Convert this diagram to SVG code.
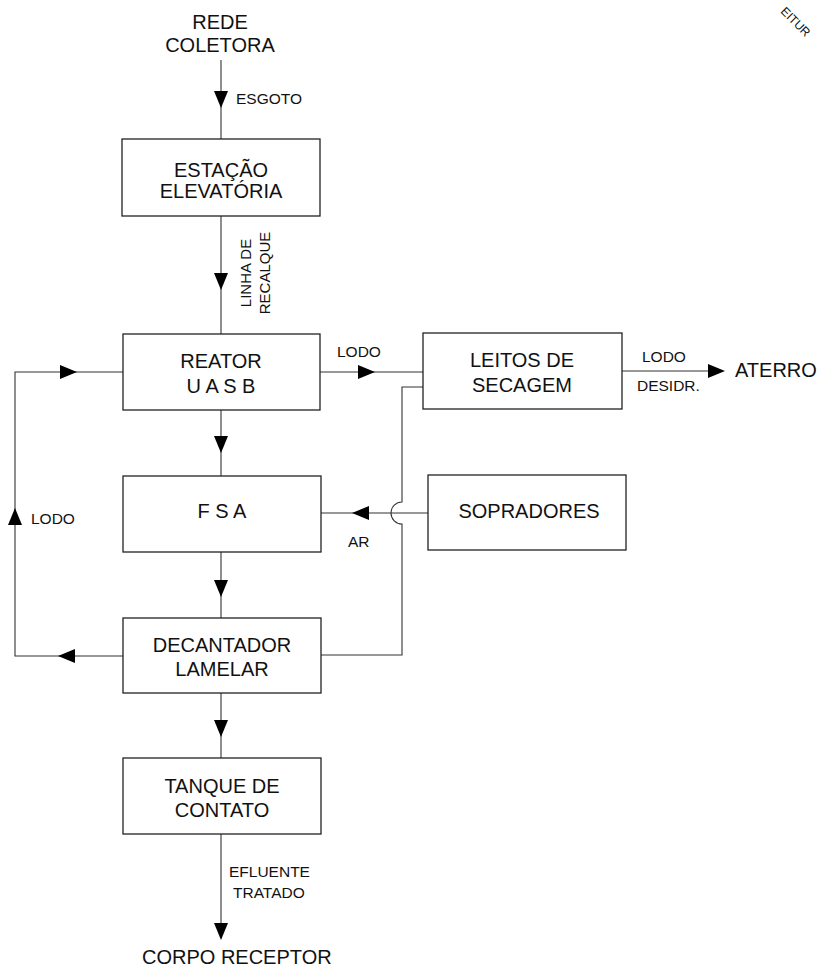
<svg xmlns="http://www.w3.org/2000/svg" width="820" height="967" viewBox="0 0 820 967">
<style>
  .box { fill: #ffffff; stroke: #222; stroke-width: 1.3; }
  .ln { fill: none; stroke: #333; stroke-width: 1.1; }
  .ah { fill: #000; stroke: none; }
  .big { font-family: "Liberation Sans", Arial, sans-serif; font-size: 20px; fill: #111; }
  .sm { font-family: "Liberation Sans", Arial, sans-serif; font-size: 15.5px; fill: #111; }
  .rot { font-family: "Liberation Sans", Arial, sans-serif; font-size: 15px; fill: #111; text-anchor: middle; }
  .mid { text-anchor: middle; }
</style>
<defs>
  <path id="aD" d="M-7,-17 L7,-17 L0,0 Z"/>
  <path id="aU" d="M-7,17 L7,17 L0,0 Z"/>
  <path id="aR" d="M-17,-7 L-17,7 L0,0 Z"/>
  <path id="aL" d="M17,-7 L17,7 L0,0 Z"/>
</defs>
<rect width="820" height="967" fill="#ffffff"/>

<g id="connectors">
  <line class="ln" x1="221" y1="60" x2="221" y2="139"/>
  <use href="#aD" class="ah" x="221" y="108"/>
  <line class="ln" x1="221" y1="216" x2="221" y2="334"/>
  <use href="#aD" class="ah" x="221" y="290"/>
  <line class="ln" x1="221" y1="410" x2="221" y2="476"/>
  <use href="#aD" class="ah" x="221" y="453"/>
  <line class="ln" x1="221" y1="552" x2="221" y2="618"/>
  <use href="#aD" class="ah" x="221" y="597"/>
  <line class="ln" x1="221" y1="693" x2="221" y2="758"/>
  <use href="#aD" class="ah" x="221" y="737"/>
  <line class="ln" x1="221" y1="834" x2="221" y2="930"/>
  <use href="#aD" class="ah" x="221" y="940"/>
  <line class="ln" x1="320" y1="372" x2="423" y2="372"/>
  <use href="#aR" class="ah" x="375" y="372"/>
  <line class="ln" x1="622" y1="371" x2="712" y2="371"/>
  <use href="#aR" class="ah" x="725" y="371"/>
  <line class="ln" x1="428" y1="513" x2="321" y2="513"/>
  <use href="#aL" class="ah" x="352" y="513"/>
  <path class="ln" d="M123,656 L15,656 L15,372 L123,372"/>
  <use href="#aL" class="ah" x="58" y="656"/>
  <use href="#aU" class="ah" x="15" y="508"/>
  <use href="#aR" class="ah" x="77" y="372"/>
  <path class="ln" d="M321,655 L402,655 L402,524 A11,11 0 0 1 402,502 L402,387 L423,387"/>
</g>

<g id="n-rede">
  <text class="big mid" x="220" y="29">REDE</text>
  <text class="big mid" x="220" y="52">COLETORA</text>
</g>
<g id="n-estacao">
  <rect class="box" x="122" y="139" width="198" height="77"/>
  <text class="big mid" x="221" y="177">ESTAÇÃO</text>
  <text class="big mid" x="221" y="198">ELEVATÓRIA</text>
</g>
<g id="n-reator">
  <rect class="box" x="123" y="334" width="197" height="76"/>
  <text class="big mid" x="221" y="368">REATOR</text>
  <text class="big mid" x="221" y="393">U A S B</text>
</g>
<g id="n-leitos">
  <rect class="box" x="423" y="333" width="199" height="76"/>
  <text class="big mid" x="522" y="367">LEITOS DE</text>
  <text class="big mid" x="522" y="392">SECAGEM</text>
</g>
<g id="n-aterro">
  <text class="big" x="735" y="377">ATERRO</text>
</g>
<g id="n-fsa">
  <rect class="box" x="123" y="476" width="198" height="76"/>
  <text class="big mid" x="222" y="518">F S A</text>
</g>
<g id="n-sopradores">
  <rect class="box" x="428" y="475" width="198" height="75"/>
  <text class="big mid" x="529" y="518">SOPRADORES</text>
</g>
<g id="n-decantador">
  <rect class="box" x="123" y="618" width="198" height="75"/>
  <text class="big mid" x="222" y="652">DECANTADOR</text>
  <text class="big mid" x="222" y="676">LAMELAR</text>
</g>
<g id="n-tanque">
  <rect class="box" x="123" y="758" width="198" height="76"/>
  <text class="big mid" x="222" y="793">TANQUE DE</text>
  <text class="big mid" x="222" y="817">CONTATO</text>
</g>
<g id="n-corpo">
  <text class="big" x="142" y="964">CORPO RECEPTOR</text>
</g>

<g id="labels">
  <text class="sm" x="236" y="104">ESGOTO</text>
  <text class="rot" transform="translate(251,273) rotate(-90)">LINHA DE</text>
  <text class="rot" transform="translate(270,273) rotate(-90)">RECALQUE</text>
  <text class="sm" x="337" y="357">LODO</text>
  <text class="sm" x="642" y="362">LODO</text>
  <text class="sm" x="637" y="391">DESIDR.</text>
  <text class="sm" x="348" y="547">AR</text>
  <text class="sm" x="31" y="524">LODO</text>
  <text class="sm" x="229" y="877">EFLUENTE</text>
  <text class="sm" x="233" y="898">TRATADO</text>
  <text class="sm" transform="translate(780,12) rotate(45)" style="font-size:12px">EITUR</text>
</g>
</svg>
